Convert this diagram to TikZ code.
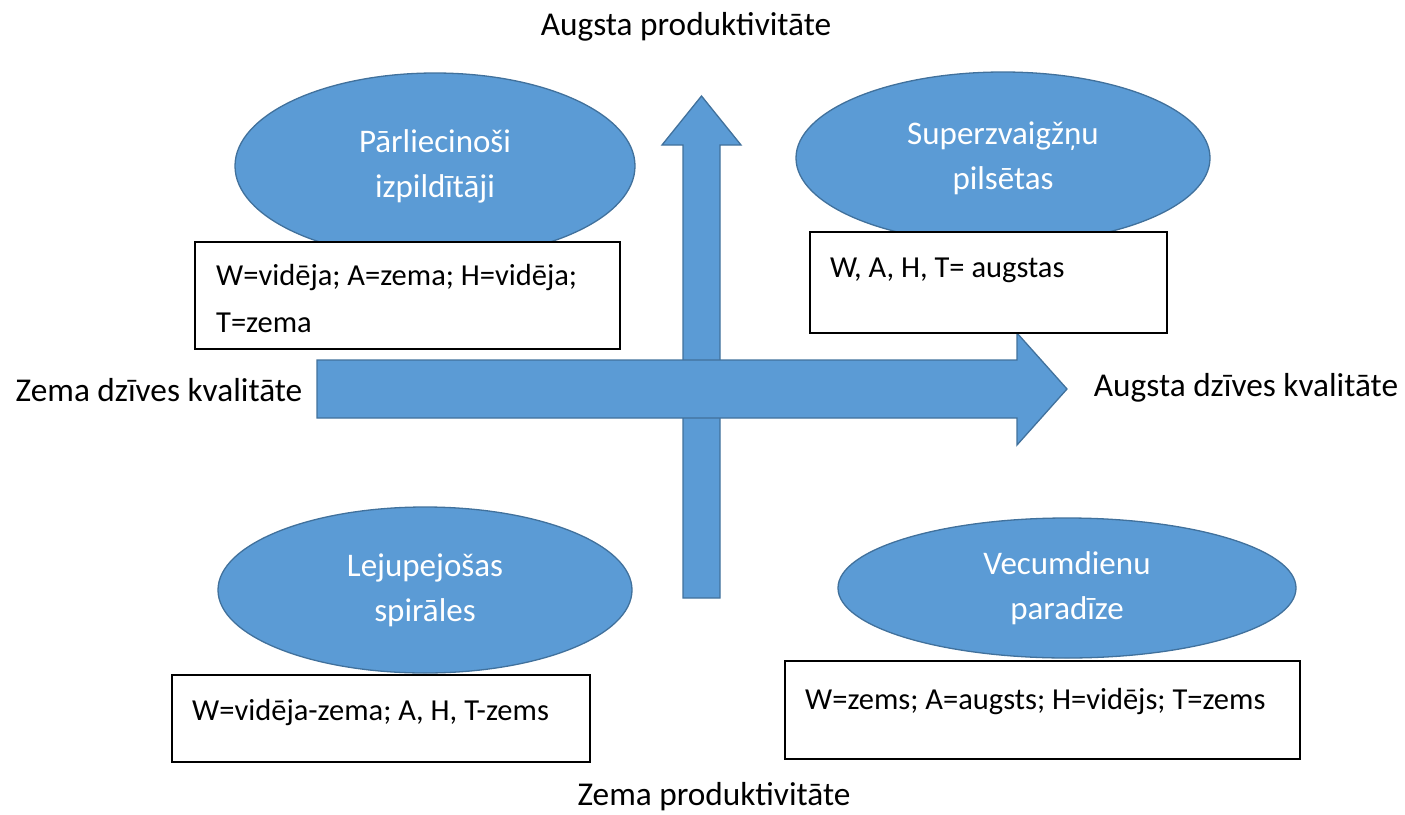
\documentclass[tikz,border=0pt]{standalone}
\usepackage{fontspec}
\setmainfont{Carlito}
\usetikzlibrary{shapes.geometric}
\definecolor{quadblue}{RGB}{91,155,213}
\definecolor{quadedge}{RGB}{65,113,156}

\begin{document}
\begin{tikzpicture} [
        x=1pt, y=-1pt,
        oval/.style={draw=quadedge, ellipse, line width=1.3pt, fill=quadblue, text=white, inner sep=0pt, font=\fontsize{33}{45}\selectfont},
        scorebox/.style={draw=black, rectangle, line width=1.1pt, fill=white, inner sep=0pt},
        scoretext/.style={anchor=base west, inner sep=0pt, align=left, font=\fontsize{30.5}{47}\selectfont},
        axislabel/.style={inner sep=0pt, font=\fontsize{33.3}{40}\selectfont},
        blockarrow/.style={draw=quadedge, line width=1.3pt, fill=quadblue},
        align=center ]
    \useasboundingbox (0,0) rectangle (1405,814);
    \draw[blockarrow] (683,598) -- (683,145) -- (662,145) -- (701.5,96) -- (741,145) -- (720,145) -- (720,598) -- cycle;
    \draw[blockarrow] (317,360) -- (1017,360) -- (1017,333) -- (1067,389) -- (1017,445) -- (1017,418) -- (317,418) -- cycle;
    \node[axislabel] (prodhigh) at (686,27) {Augsta produktivitāte};
    \node[axislabel] (prodlow) at (714,797) {Zema produktivitāte};
    \node[axislabel] (lifelow) at (159,390) {Zema dzīves kvalitāte};
    \node[axislabel] (lifehigh) at (1246,388) {Augsta dzīves kvalitāte};
    \node[oval, minimum width=400, minimum height=186] (q1) at (435,166) {Pārliecinoši\\izpildītāji};
    \node[oval, minimum width=414, minimum height=172] (q2) at (1003,158) {Superzvaigžņu\\pilsētas};
    \node[oval, minimum width=414, minimum height=166] (q3) at (425,590) {Lejupejošas\\spirāles};
    \node[oval, minimum width=458, minimum height=140] (q4) at (1067,588) {Vecumdienu\\paradīze};
    \node[scorebox, minimum width=425, minimum height=107] (b1) at (407.5,295.5) {};
    \node[scoretext] (t1) at (216,332) {W=vidēja; A=zema; H=vidēja;\\T=zema};
    \node[scorebox, minimum width=357, minimum height=101] (b2) at (988.5,282.5) {};
    \node[scoretext] (t2) at (830,277) {W, A, H, T= augstas};
    \node[scorebox, minimum width=418, minimum height=87] (b3) at (381,718.5) {};
    \node[scoretext] (t3) at (192,720) {W=vidēja-zema; A, H, T-zems};
    \node[scorebox, minimum width=515, minimum height=98] (b4) at (1042.5,710) {};
    \node[scoretext] (t4) at (805,709) {W=zems; A=augsts; H=vidējs; T=zems};
\end{tikzpicture}
\end{document}
